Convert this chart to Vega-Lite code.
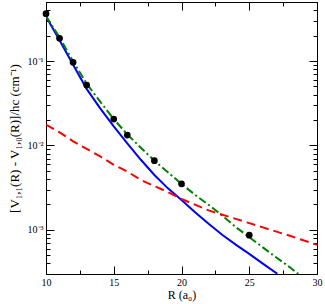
{
  "$schema": "https://vega.github.io/schema/vega-lite/v6.json",
  "width": 271,
  "height": 272,
  "autosize": "none",
  "padding": {"left": 46, "top": 2, "right": 8, "bottom": 30},
  "background": "white",
  "config": {
    "view": {"stroke": "black", "strokeWidth": 1},
    "axis": {
      "domain": false,
      "grid": false,
      "labelFont": "Liberation Serif",
      "labelFontSize": 10,
      "labelColor": "black",
      "titleFont": "Liberation Serif",
      "titleFontSize": 12,
      "titleFontWeight": "normal",
      "titleColor": "black",
      "tickColor": "black",
      "tickWidth": 1
    }
  },
  "datasets": {
    "dots": [
      {"R": 10, "V": 0.364},
      {"R": 11, "V": 0.186},
      {"R": 12, "V": 0.0966},
      {"R": 13, "V": 0.0519},
      {"R": 15, "V": 0.0205},
      {"R": 16, "V": 0.01325},
      {"R": 18, "V": 0.00659},
      {"R": 20, "V": 0.00351},
      {"R": 25, "V": 0.000865}
    ],
    "blue": [
      {"R": 10, "V": 0.336},
      {"R": 11, "V": 0.176},
      {"R": 12, "V": 0.0902},
      {"R": 13, "V": 0.0468},
      {"R": 14, "V": 0.0275},
      {"R": 15, "V": 0.0168},
      {"R": 16, "V": 0.0106},
      {"R": 17, "V": 0.00676},
      {"R": 18, "V": 0.00447},
      {"R": 19, "V": 0.0031},
      {"R": 20, "V": 0.00226},
      {"R": 21, "V": 0.00162},
      {"R": 22, "V": 0.00118},
      {"R": 23, "V": 0.000875},
      {"R": 24, "V": 0.000668},
      {"R": 25, "V": 0.000519},
      {"R": 26, "V": 0.000398},
      {"R": 27.07, "V": 0.000302}
    ],
    "green": [
      {"R": 10, "V": 0.34},
      {"R": 11, "V": 0.19},
      {"R": 12, "V": 0.099},
      {"R": 13, "V": 0.054},
      {"R": 14, "V": 0.033},
      {"R": 15, "V": 0.0205},
      {"R": 16, "V": 0.0135},
      {"R": 17, "V": 0.0094},
      {"R": 18, "V": 0.0066},
      {"R": 19, "V": 0.0048},
      {"R": 20, "V": 0.0035},
      {"R": 21, "V": 0.0026},
      {"R": 22, "V": 0.00198},
      {"R": 23, "V": 0.00148},
      {"R": 24, "V": 0.00108},
      {"R": 25, "V": 0.00082},
      {"R": 26, "V": 0.00062},
      {"R": 27, "V": 0.00047},
      {"R": 28, "V": 0.00036},
      {"R": 28.62, "V": 0.0003}
    ],
    "red": [
      {"R": 10, "V": 0.0176},
      {"R": 11, "V": 0.0143},
      {"R": 12, "V": 0.0112},
      {"R": 13, "V": 0.0091},
      {"R": 14, "V": 0.0074},
      {"R": 15, "V": 0.0059},
      {"R": 16, "V": 0.0049},
      {"R": 17, "V": 0.0039},
      {"R": 18, "V": 0.0033},
      {"R": 19, "V": 0.0028},
      {"R": 20, "V": 0.00232},
      {"R": 22, "V": 0.0017},
      {"R": 24, "V": 0.00135},
      {"R": 25, "V": 0.0012},
      {"R": 26, "V": 0.00107},
      {"R": 28, "V": 0.00085},
      {"R": 30, "V": 0.000664}
    ]
  },
  "layer": [
    {
      "data": {"name": "blue"},
      "mark": {"type": "line", "color": "#0000ff", "strokeWidth": 2, "clip": true},
      "encoding": {
        "x": {
          "field": "R", "type": "quantitative",
          "scale": {"domain": [10, 30], "nice": false, "zero": false},
          "axis": {
            "orient": "bottom",
            "title": "R (a₀)",
            "values": [10, 12.5, 15, 17.5, 20, 22.5, 25, 27.5, 30],
            "labelExpr": "datum.value % 5 == 0 ? datum.label : ''",
            "tickSize": {"condition": {"test": "datum.value % 5 == 0", "value": -8}, "value": -4},
            "labelPadding": 11,
            "labelFlush": false,
            "titlePadding": 2
          }
        },
        "y": {
          "field": "V", "type": "quantitative",
          "scale": {"type": "log", "domain": [0.0003, 0.5], "nice": false},
          "axis": {
            "orient": "left",
            "title": "[V₁,₁(R) - V₁,₀(R)]/hc (cm⁻¹)",
            "titleFontSize": 13,
            "values": [0.0003, 0.0004, 0.0005, 0.0006, 0.0007, 0.0008, 0.0009, 0.001, 0.002, 0.003, 0.004, 0.005, 0.006, 0.007, 0.008, 0.009, 0.01, 0.02, 0.03, 0.04, 0.05, 0.06, 0.07, 0.08, 0.09, 0.1, 0.2, 0.3, 0.4, 0.5],
            "labelExpr": "datum.value == 0.1 ? '10⁻¹' : datum.value == 0.01 ? '10⁻²' : datum.value == 0.001 ? '10⁻³' : ''",
            "tickSize": {"condition": {"test": "datum.value == 0.1 || datum.value == 0.01 || datum.value == 0.001", "value": -8}, "value": -4},
            "labelPadding": 11,
            "labelFlush": false,
            "titlePadding": 6
          }
        }
      }
    },
    {
      "data": {"name": "green"},
      "mark": {"type": "line", "color": "#008000", "strokeWidth": 2, "strokeDash": [8, 3, 2, 3], "clip": true},
      "encoding": {
        "x": {
          "field": "R", "type": "quantitative",
          "axis": {
            "orient": "top",
            "title": null,
            "labels": false,
            "values": [10, 12.5, 15, 17.5, 20, 22.5, 25, 27.5, 30],
            "tickSize": {"condition": {"test": "datum.value % 5 == 0", "value": -8}, "value": -4}
          }
        },
        "y": {
          "field": "V", "type": "quantitative",
          "axis": {
            "orient": "right",
            "title": null,
            "labels": false,
            "values": [0.0003, 0.0004, 0.0005, 0.0006, 0.0007, 0.0008, 0.0009, 0.001, 0.002, 0.003, 0.004, 0.005, 0.006, 0.007, 0.008, 0.009, 0.01, 0.02, 0.03, 0.04, 0.05, 0.06, 0.07, 0.08, 0.09, 0.1, 0.2, 0.3, 0.4, 0.5],
            "tickSize": {"condition": {"test": "datum.value == 0.1 || datum.value == 0.01 || datum.value == 0.001", "value": -8}, "value": -4}
          }
        }
      }
    },
    {
      "data": {"name": "red"},
      "mark": {"type": "line", "color": "#ff0000", "strokeWidth": 2, "strokeDash": [9, 5], "clip": true},
      "encoding": {
        "x": {"field": "R", "type": "quantitative", "axis": null},
        "y": {"field": "V", "type": "quantitative", "axis": null}
      }
    },
    {
      "data": {"name": "dots"},
      "mark": {"type": "point", "filled": true, "color": "black", "opacity": 1, "size": 45, "clip": false},
      "encoding": {
        "x": {"field": "R", "type": "quantitative", "axis": null},
        "y": {"field": "V", "type": "quantitative", "axis": null}
      }
    }
  ],
  "resolve": {"axis": {"x": "independent", "y": "independent"}}
}
